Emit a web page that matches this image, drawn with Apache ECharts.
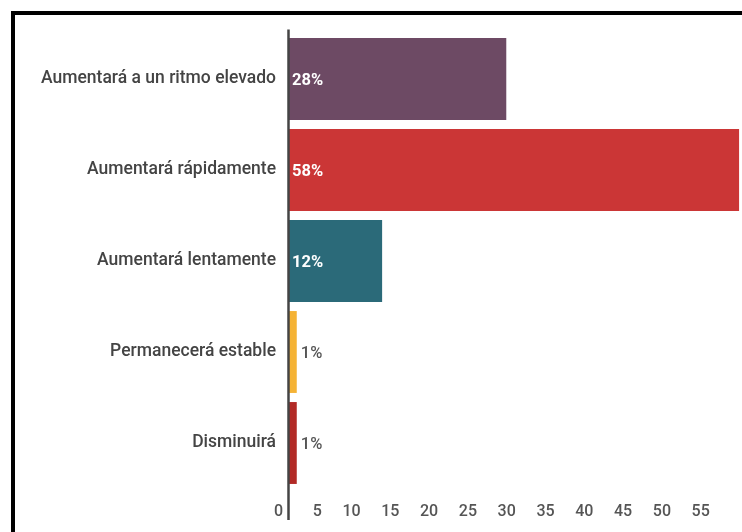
<!DOCTYPE html>
<html>
<head>
<meta charset="utf-8">
<script src="https://cdn.jsdelivr.net/npm/echarts@6/dist/echarts.min.js"></script>
<style>html,body{margin:0;padding:0;background:#fff;}#c{width:742px;height:532px;}</style>
</head>
<body>
<div id="c"></div>
<script>
var categories = ['Aumentará a un ritmo elevado', 'Aumentará rápidamente', 'Aumentará lentamente', 'Permanecerá estable', 'Disminuirá'];
var values = [28, 58, 12, 1, 1];
var colors = ['#6D4A64', '#CB3636', '#2B6A79', '#F5B335', '#B22A26'];
var xTicks = [0, 5, 10, 15, 20, 25, 30, 35, 40, 45, 50, 55];

var chart = echarts.init(document.getElementById('c'), null, {renderer: 'canvas'});
var data = values.map(function (v, i) {
  var inside = v >= 5;
  return {
    value: v,
    itemStyle: {color: colors[i]},
    label: inside ? {
      show: true, position: 'insideLeft', distance: 3, offset: [0, 2],
      color: '#ffffff', fontWeight: 'bold', fontSize: 16.5, fontFamily: 'Roboto'
    } : {
      show: true, position: 'right', distance: 4, offset: [0, 2],
      color: '#555555', fontWeight: 500, fontSize: 16.5, fontFamily: 'Roboto'
    }
  };
});

chart.setOption({
  animation: false,
  backgroundColor: '#ffffff',
  grid: {left: 289, top: 33.5, height: 455, width: 465.6, containLabel: false, outerBoundsMode: 'none'},
  xAxis: {
    type: 'value', min: 0, max: 60, interval: 5,
    axisLine: {show: false}, axisTick: {show: false}, splitLine: {show: false},
    axisLabel: {
      margin: 15, color: '#555555', fontSize: 16, fontFamily: 'Roboto', fontWeight: 500,
      align: 'right', padding: [0, 6, 0, 0], hideOverlap: false,
      formatter: function (v) { return xTicks.indexOf(v) >= 0 ? String(v) : ''; }
    }
  },
  yAxis: {
    type: 'category', data: categories, inverse: true,
    axisLine: {show: false}, axisTick: {show: false}, splitLine: {show: false},
    axisLabel: {margin: 13, color: '#444444', fontSize: 17.5, fontFamily: 'Roboto', fontWeight: 500,
      padding: [4, 0, 0, 0]}
  },
  series: [{
    type: 'bar', data: data, barCategoryGap: '10%',
    label: {formatter: '{c}%'}
  }]
});

var x0 = chart.convertToPixel({gridIndex: 0}, [0, 0])[0];
chart.setOption({
  graphic: [
    {type: 'rect', shape: {x: 13, y: 13, width: 900, height: 700},
      style: {fill: 'none', stroke: '#000000', lineWidth: 4}, z: 100},
    {type: 'line', shape: {x1: x0 - 0.5, y1: 29.5, x2: x0 - 0.5, y2: 520},
      style: {stroke: '#444444', lineWidth: 2.5}, z: 100}
  ]
});
</script>
</body>
</html>
